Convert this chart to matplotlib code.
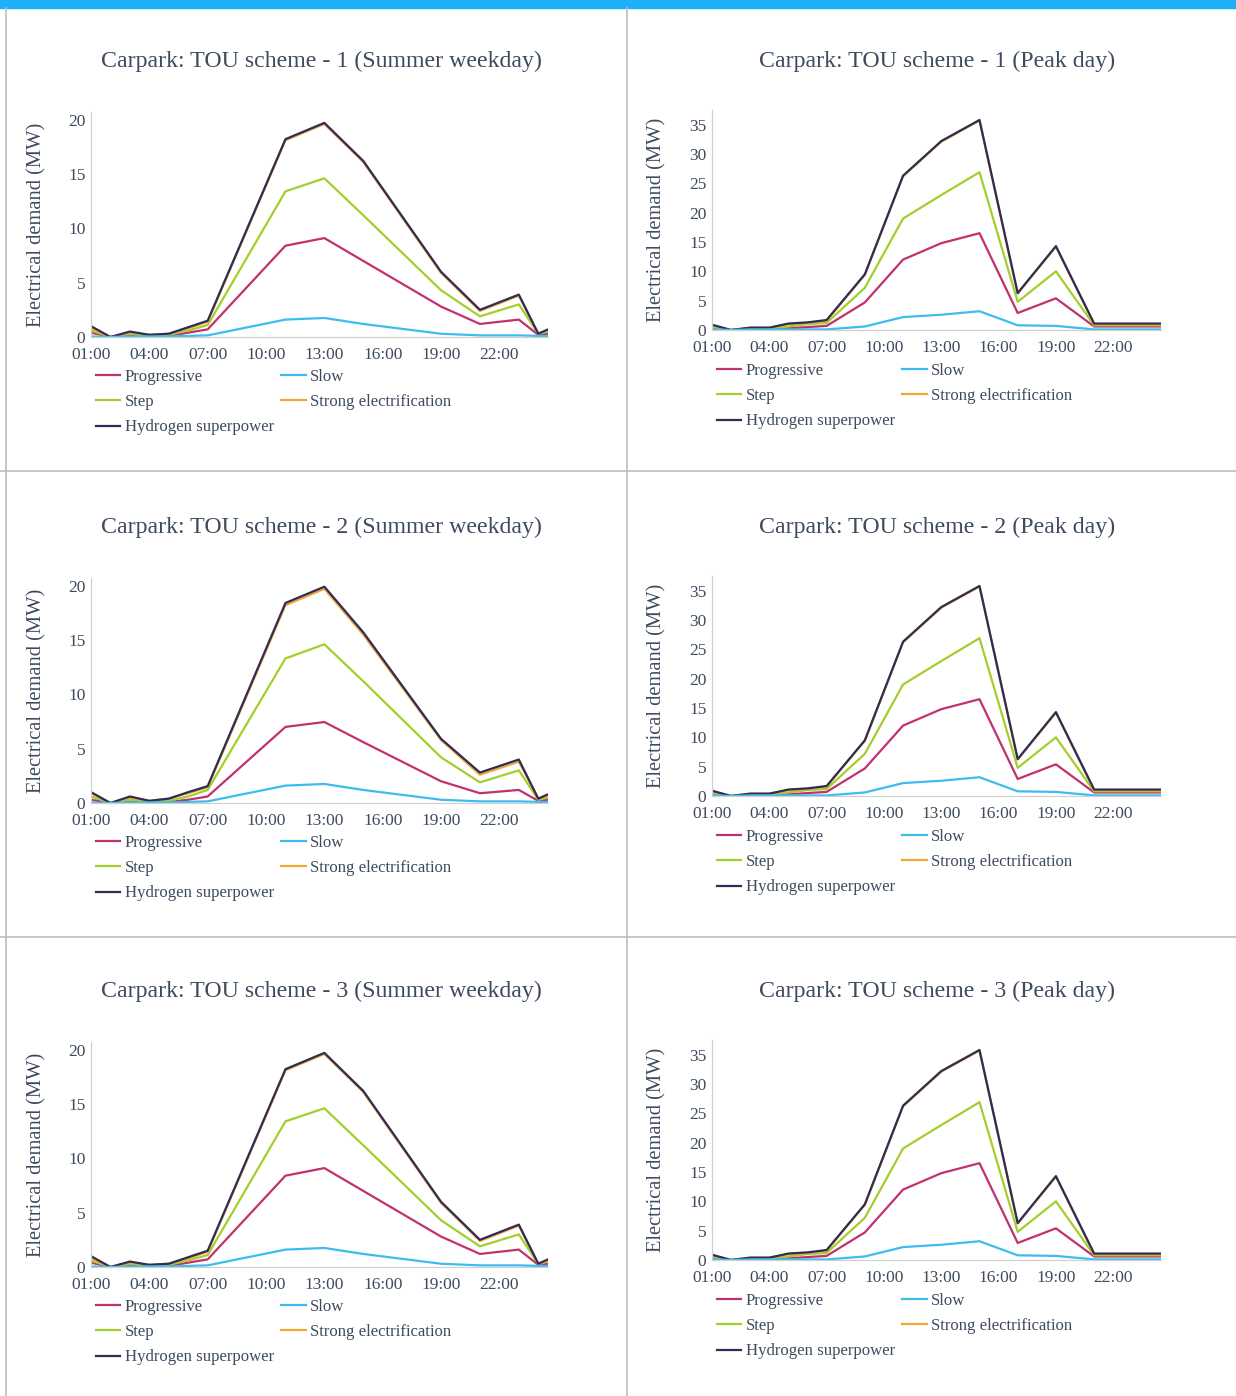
import matplotlib
matplotlib.use('Agg')
import matplotlib.pyplot as plt
from matplotlib.lines import Line2D

W, H = 1236, 1396

# hours of day for the two kinds of profile
WD_HOURS = [1, 2, 3, 4, 5, 6, 7, 11, 13, 15, 19, 21, 23, 24, 24.5]
PK_HOURS = [1, 2, 3, 4, 5, 6, 7, 9, 11, 13, 15, 17, 19, 21, 24.5]
TICK_HOURS = [1, 4, 7, 10, 13, 16, 19, 22]
TICK_LABELS = ['01:00', '04:00', '07:00', '10:00', '13:00', '16:00', '19:00', '22:00']

SCENARIOS = ['Progressive', 'Step', 'Hydrogen superpower', 'Slow', 'Strong electrification']

# summer weekday, TOU scheme 1 (scheme 3 looks identical)
prog_wd1 = [0.4, 0.0, 0.2, 0.1, 0.1, 0.4, 0.7, 8.4, 9.1, 7.0, 2.8, 1.2, 1.6, 0.2, 0.3]
step_wd1 = [0.6, 0.0, 0.3, 0.1, 0.2, 0.6, 1.1, 13.4, 14.6, 11.2, 4.3, 1.9, 3.0, 0.3, 0.5]
hyd_wd1 = [1.0, 0.0, 0.5, 0.2, 0.3, 0.9, 1.5, 18.2, 19.7, 16.2, 6.0, 2.5, 3.9, 0.3, 0.7]
slow_wd1 = [0.05, 0.0, 0.05, 0.05, 0.05, 0.1, 0.15, 1.6, 1.75, 1.2, 0.3, 0.15, 0.15, 0.1, 0.1]
strong_wd1 = [0.8, 0.0, 0.4, 0.2, 0.3, 0.8, 1.4, 18.1, 19.6, 16.1, 5.9, 2.4, 3.8, 0.3, 0.6]

# summer weekday, TOU scheme 2
prog_wd2 = [0.3, 0.0, 0.1, 0.1, 0.1, 0.3, 0.6, 7.0, 7.45, 5.6, 2.0, 0.9, 1.2, 0.2, 0.3]
step_wd2 = [0.6, 0.0, 0.3, 0.1, 0.2, 0.6, 1.2, 13.3, 14.6, 11.2, 4.2, 1.9, 3.0, 0.3, 0.5]
hyd_wd2 = [1.0, 0.0, 0.6, 0.2, 0.4, 1.0, 1.55, 18.4, 19.9, 15.7, 5.9, 2.8, 4.0, 0.4, 0.8]
slow_wd2 = [0.05, 0.0, 0.05, 0.05, 0.05, 0.1, 0.15, 1.6, 1.75, 1.2, 0.3, 0.15, 0.15, 0.1, 0.1]
strong_wd2 = [0.9, 0.0, 0.5, 0.2, 0.4, 0.9, 1.45, 18.2, 19.7, 15.5, 5.8, 2.6, 3.8, 0.4, 0.7]

# peak day (same for all three schemes)
prog_pk = [0.3, 0.0, 0.2, 0.2, 0.3, 0.5, 0.7, 4.7, 12.0, 14.8, 16.5, 2.9, 5.4, 0.6, 0.6]
step_pk = [0.5, 0.0, 0.3, 0.3, 0.6, 1.0, 1.2, 7.2, 19.0, 23.0, 26.9, 4.8, 10.0, 0.8, 0.8]
hyd_pk = [0.9, 0.0, 0.4, 0.4, 1.1, 1.3, 1.7, 9.5, 26.3, 32.2, 35.8, 6.3, 14.3, 1.1, 1.1]
slow_pk = [0.1, 0.0, 0.1, 0.1, 0.1, 0.1, 0.1, 0.6, 2.2, 2.6, 3.2, 0.8, 0.7, 0.1, 0.1]
strong_pk = [0.8, 0.0, 0.4, 0.4, 1.0, 1.2, 1.6, 9.4, 26.2, 32.1, 35.7, 6.2, 14.2, 1.0, 1.0]

COLORS = {'Progressive': '#c2306f', 'Step': '#a3cf2a', 'Hydrogen superpower': '#2e2c58',
          'Slow': '#3cbcf0', 'Strong electrification': '#f2a634'}
TEXT = '#3e4b5e'
FONT = 'Liberation Serif'

plt.rcParams['font.family'] = [FONT, 'DejaVu Serif']


def px_axes(fig, x0, y_top, x1, y_bot):
    return fig.add_axes([x0 / W, 1 - y_bot / H, (x1 - x0) / W, (y_bot - y_top) / H])


def draw_panel(fig, title, hours, series, box, ymax, yticks, title_x, title_y, ylab_x, leg_gap):
    """
    Draw one demand profile with its title and legend.
    :param series: dict scenario -> values
    :param box: (x0, y_top, x1, y_zero) in pixels
    :param leg_gap: pixels between the x axis and the top of the legend
    """
    ax = px_axes(fig, *box)
    for name in ['Progressive', 'Step', 'Strong electrification', 'Hydrogen superpower', 'Slow']:
        ax.plot(hours, series[name], color=COLORS[name], linewidth=1.6, label=name)
    ax.set_xlim(1, 24.5)
    ax.set_ylim(0, ymax)
    ax.set_xticks(TICK_HOURS)
    ax.set_xticklabels(TICK_LABELS)
    ax.set_yticks(yticks)
    ax.tick_params(length=0, labelsize=12.5, colors=TEXT)
    ax.tick_params(axis='x', pad=7)
    ax.tick_params(axis='y', pad=4)
    for s in ['top', 'right']:
        ax.spines[s].set_visible(False)
    for s in ['left', 'bottom']:
        ax.spines[s].set_color('#d0d0d0')
        ax.spines[s].set_linewidth(0.9)
    fig.text(ylab_x / W, 1 - (box[1] + box[3]) / 2 / H, 'Electrical demand (MW)', rotation=90,
             ha='center', va='center', fontsize=14.8, color=TEXT)
    fig.text(title_x / W, 1 - title_y / H, title, ha='center', va='center', fontsize=17.2, color=TEXT)
    handles = {l.get_label(): l for l in ax.get_lines()}
    h = box[3] - box[1]
    ax.legend([handles[n] for n in SCENARIOS], SCENARIOS, ncol=2, frameon=False,
              loc='upper left', bbox_to_anchor=(5 / (box[2] - box[0]), -leg_gap / h),
              fontsize=12.1, labelcolor=TEXT, handlelength=1.45, handletextpad=0.25,
              columnspacing=0.45, labelspacing=0.55, borderaxespad=0, borderpad=0)
    return ax


fig = plt.figure(figsize=(W / 100, H / 100), dpi=100)
fig.patch.set_facecolor('white')

# page frame: blue top bar and table cell borders
fig.add_artist(plt.Rectangle((0, 1 - 8 / H), 1, 8 / H, transform=fig.transFigure, color='#1cb0f6'))
for xs, ys in [([6, 6], [8, H]), ([627, 627], [8, H]), ([0, W], [471, 471]), ([0, W], [937, 937])]:
    fig.add_artist(Line2D([x / W for x in xs], [1 - y / H for y in ys], color='#bdbdbd', linewidth=1.2))

wd = [
    {'Progressive': prog_wd1, 'Step': step_wd1, 'Hydrogen superpower': hyd_wd1,
     'Slow': slow_wd1, 'Strong electrification': strong_wd1},
    {'Progressive': prog_wd2, 'Step': step_wd2, 'Hydrogen superpower': hyd_wd2,
     'Slow': slow_wd2, 'Strong electrification': strong_wd2},
    {'Progressive': prog_wd1, 'Step': step_wd1, 'Hydrogen superpower': hyd_wd1,
     'Slow': slow_wd1, 'Strong electrification': strong_wd1},
]
pk = {'Progressive': prog_pk, 'Step': step_pk, 'Hydrogen superpower': hyd_pk,
      'Slow': slow_pk, 'Strong electrification': strong_pk}

row_offsets = [0, 466, 930]
for i, off in enumerate(row_offsets):
    draw_panel(fig, 'Carpark: TOU scheme - %d (Summer weekday)' % (i + 1), WD_HOURS, wd[i],
               (91, 112 + off, 548, 337 + off), 20.7, [0, 5, 10, 15, 20], 321, 61 + off, 37, 32)
    draw_panel(fig, 'Carpark: TOU scheme - %d (Peak day)' % (i + 1), PK_HOURS, pk,
               (712, 110 + off, 1161, 330 + off), 37.5, [0, 5, 10, 15, 20, 25, 30, 35], 937, 61 + off, 657, 33)

fig.savefig('out.png', dpi=100, facecolor='white')
